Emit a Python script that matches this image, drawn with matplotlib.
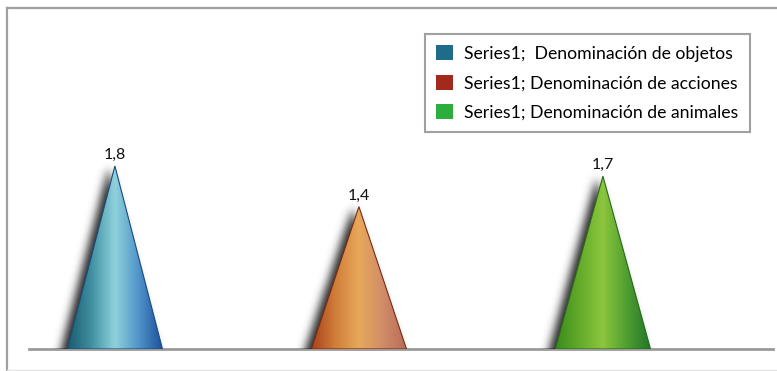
import numpy as np
import matplotlib
matplotlib.use('Agg')
import matplotlib.pyplot as plt
from matplotlib.patches import Polygon, Patch
from matplotlib.lines import Line2D
from matplotlib.colors import LinearSegmentedColormap

categories = ['Denominación de objetos', 'Denominación de acciones', 'Denominación de animales']
values = [1.8, 1.4, 1.7]
value_labels = ['1,8', '1,4', '1,7']
legend_labels = ['Series1;  Denominación de objetos',
                 'Series1; Denominación de acciones',
                 'Series1; Denominación de animales']
legend_colors = ['#1F6C8A', '#A3291C', '#2BAE3C']
gradients = [
    ['#195a6c', '#3f8fa0', '#8fd2dc', '#4f93c9', '#1c4f9c'],
    ['#a8401c', '#d07d38', '#e8a85a', '#d08c68', '#b86c58'],
    ['#3a8a1c', '#62aa2a', '#8cc63c', '#4e9e30', '#22762a'],
]
edge_colors = ['#1a4a80', '#7a2a14', '#2a6a1a']

plt.rcParams['font.family'] = ['Lato', 'DejaVu Sans']

W, H, DPI = 777, 371, 100
fig = plt.figure(figsize=(W / DPI, H / DPI), dpi=DPI)
ax_left, ax_right, ax_bottom, ax_top = 29, 773, 371 - 349, 371 - 8
ax = fig.add_axes([ax_left / W, ax_bottom / H, (ax_right - ax_left) / W, (ax_top - ax_bottom) / H])
xlim = (-0.352, 2.697)
ylim = (0, (ax_top - ax_bottom) / 101.7)
px_x = (ax_right - ax_left) / (xlim[1] - xlim[0])
px_y = (ax_top - ax_bottom) / (ylim[1] - ylim[0])
half = 0.195


def blur(a, sigma):
    r = int(3 * sigma) + 1
    k = np.exp(-0.5 * (np.arange(-r, r + 1) / sigma) ** 2)
    k /= k.sum()
    a = np.apply_along_axis(lambda m: np.convolve(m, k, mode='same'), 0, a)
    a = np.apply_along_axis(lambda m: np.convolve(m, k, mode='same'), 1, a)
    return a


for i, (v, lab) in enumerate(zip(values, value_labels)):
    xc = i
    hw = half * px_x
    hp = v * px_y
    # shadow
    padl, padr, padt = 30, 10, 20
    xs = np.arange(-hw - padl, hw + padr, 1.0)
    ys = np.arange(-10, hp + padt, 1.0)
    X, Y = np.meshgrid(xs, ys)
    dx, dy = -6, -2
    top = hp + dy
    inside = (Y >= -10) & (Y <= top) & (np.abs(X - dx) <= hw * (1 - np.clip(Y, 0, None) / top))
    sh = blur(inside.astype(float), 4.5)
    rgba = np.zeros(sh.shape + (4,))
    rgba[..., 3] = 0.85 * sh
    ax.imshow(rgba, origin='lower', aspect='auto', interpolation='bilinear',
              extent=[xc + xs[0] / px_x, xc + xs[-1] / px_x, ys[0] / px_y, ys[-1] / px_y],
              zorder=2)
    # cone gradient
    cmap = LinearSegmentedColormap.from_list('c%d' % i, gradients[i])
    grad = cmap(np.linspace(0, 1, 256))[None, :, :]
    tri = Polygon([[xc - half, 0], [xc, v], [xc + half, 0]], closed=True,
                  transform=ax.transData)
    im = ax.imshow(grad, origin='lower', aspect='auto', interpolation='bilinear',
                   extent=[xc - half, xc + half, 0, v], zorder=3)
    im.set_clip_path(tri)
    ax.add_patch(Polygon([[xc - half, 0], [xc, v], [xc + half, 0]], closed=True,
                         fill=False, edgecolor=edge_colors[i], lw=0.8, zorder=4))
    ax.text(xc, v + 7 / px_y, lab, ha='center', va='baseline', fontsize=11.5,
            color='#111111', zorder=5)

ax.axhline(0, color='#9a9a9a', lw=2, zorder=1, clip_on=False)
ax.set_xlim(*xlim)
ax.set_ylim(*ylim)
ax.axis('off')

# outer frame
fig.add_artist(Line2D([7 / W, 7 / W], [1.5 / H, 363 / H], color='#a0a0a0', lw=1.6,
                      transform=fig.transFigure))
fig.add_artist(Line2D([7 / W, 1.0], [363 / H, 363 / H], color='#a0a0a0', lw=1.6,
                      transform=fig.transFigure))
fig.add_artist(Line2D([7 / W, 1.0], [1.0 / H, 1.0 / H], color='#e4e4e4', lw=1.0,
                      transform=fig.transFigure))

handles = [Patch(facecolor=c, edgecolor='none') for c in legend_colors]
leg = fig.legend(handles, legend_labels, loc='upper left',
                 bbox_to_anchor=(425 / W, (371 - 34) / H), bbox_transform=fig.transFigure,
                 fontsize=12.7, frameon=True, fancybox=False, framealpha=1,
                 edgecolor='#a0a0a0', handlelength=0.92, handleheight=0.92,
                 handletextpad=0.65, labelspacing=0.72, borderpad=0.65, borderaxespad=0)
leg.get_frame().set_linewidth(1.5)

fig.savefig('out.png', dpi=DPI)
